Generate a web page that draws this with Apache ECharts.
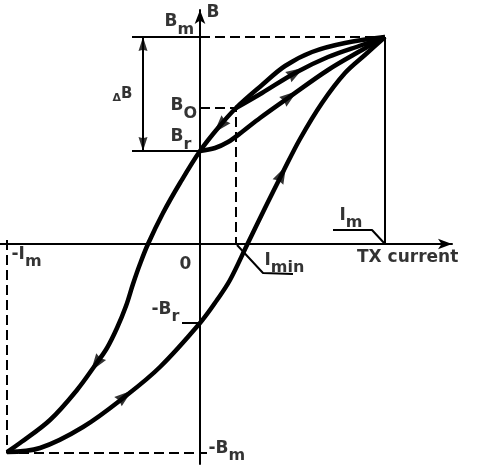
<!DOCTYPE html>
<html><head><meta charset="utf-8">
<script src="https://cdn.jsdelivr.net/npm/echarts@6/dist/echarts.min.js"></script>
<style>html,body{margin:0;padding:0;background:#fff}#c{width:481px;height:466px}</style>
</head><body><div id="c"></div>
<script>
// Hysteresis loop, drawing units: TX current (Im = 185), flux B (Bm = 207)
const Im = 185, negIm = -193, Bm = 207, negBm = -209, Br = 93, negBr = -79, Bo = 136, Imin = 36;

// outer loop, descending branch (from +Bm to -Bm)
const outerDown = [[185,207],[145,201],[112,192],[85,178],[62,159],[36,136],[18,116],[0,93],[-20,61],[-37,31],[-52,0],[-60,-20],[-67,-40],[-74,-62],[-83,-84],[-93,-104],[-104,-120],[-123,-146],[-150,-176],[-180,-199],[-193,-208]];
// outer loop, ascending branch (from -Bm to +Bm)
const outerUp = [[-193,-208],[-160,-204],[-117,-183],[-73,-151],[-40,-123],[0,-79],[17,-56],[30,-36],[47,-1],[65,36],[83,72],[100,105],[122,141],[145,171],[166,190],[185,207]];
// minor loop from Br back to Bm
const minorLow = [[0,93],[15,96],[28,102],[42,112],[60,126],[88,146],[128,174],[162,194],[185,207]];
// minor loop from Bo back to Bm
const minorHigh = [[36,136],[62,151],[95,171],[128,187],[162,199],[185,207]];

// direction arrows on the curves: [tail, head]
const curveArrows = [
  [[28,127],[20,118]],
  [[-97,-110],[-104,-120]],
  [[-85,-160],[-75,-152]],
  [[77,60],[82,70]],
  [[86,165.5],[96,171.5]],
  [[80,140],[90,147.5]]
];

// ---------------- layout (not data) ----------------
const FONT = 'DejaVu Sans';
const labels = [
  {text:'{t|B}', at:[7,239.5]},
  {text:'{t|B}{s|m}', at:[-35,230]},
  {text:'{d|\u0394}{u|B}', at:[-87,157]},
  {text:'{t|B}{s|O}', at:[-29,146]},
  {text:'{t|B}{s|r}', at:[-29,115]},
  {text:'{t|-I}{s|m}', at:[-188,-2.5]},
  {text:'{t|0}', at:[-20,-12.5]},
  {text:'{t|I}{s|min}', at:[65,-8.5]},
  {text:'{t|I}{s|m}', at:[140,36.5]},
  {text:'{t|TX current}', at:[157.5,-5.5]},
  {text:'{t|-B}{s|r}', at:[-48,-57.5]},
  {text:'{t|-B}{s|m}', at:[9,-196.5]}
];
const dBx = -57;
const solidGuides = [
  [[-68,Bm],[0,Bm]],
  [[Im,Bm],[Im,0]],
  [[-68,Br],[0,Br]],
  [[-18,negBr],[0,negBr]],
  [[0,negBm],[7,negBm]],
  [[133,14],[172,14],[Im,0]],
  [[Imin+1,-1],[63,-29],[93,-30]],
  [[dBx,Bm],[dBx,Br]]
];
const dashedGuides = [
  [[0,Bm],[Im,Bm]],
  [[0,Bo],[Imin,Bo],[Imin,0]],
  [[negIm,4],[negIm,negBm],[0,negBm]]
];
const guideArrows = [
  [[dBx,Bm-17],[dBx,Bm-7]],
  [[dBx,Br+17],[dBx,Br+7]]
];

const chart = echarts.init(document.getElementById('c'), null, {renderer:'canvas'});
const blk = '#000';
function lineSeries(data, width, type, smooth){
  return {type:'line', data:data, symbol:'none', smooth:smooth||false, silent:true,
    lineStyle:{color:blk, width:width, type:type||'solid', cap:'butt'}, z:2};
}
const series = [];
[outerDown, outerUp, minorLow, minorHigh].forEach(d=>series.push(lineSeries(d,4.5,'solid',0.35)));
solidGuides.forEach(d=>series.push(lineSeries(d,2)));
dashedGuides.forEach(d=>series.push(lineSeries(d,2,[10,5])));
const arrowPath = 'path://M5,0L10,16L5,14.5L0,16Z';
series.push({type:'scatter', id:'arrowsC', symbol:arrowPath, symbolSize:[12,18], itemStyle:{color:blk}, silent:true, z:5, clip:false,
  data: curveArrows.map(a=>({value:a[1]}))});
series.push({type:'scatter', id:'arrowsG', symbol:arrowPath, symbolSize:[9,14], itemStyle:{color:blk}, silent:true, z:5, clip:false,
  data: guideArrows.map(a=>({value:a[1]}))});
series.push({type:'scatter', symbolSize:1, itemStyle:{color:'rgba(0,0,0,0)'}, silent:true, z:10, clip:false,
  data: labels.map(l=>({value:l.at, label:{formatter:l.text}})),
  label:{show:true, position:[0,0], align:'left', verticalAlign:'top', color:blk,
    rich:{
      t:{fontFamily:FONT, fontSize:17, fontWeight:'bold', lineHeight:19, verticalAlign:'top', color:blk},
      s:{fontFamily:FONT, fontSize:16, fontWeight:'bold', lineHeight:32, verticalAlign:'middle', color:blk},
      u:{fontFamily:FONT, fontSize:15, fontWeight:'bold', lineHeight:15, verticalAlign:'top', color:blk},
      d:{fontFamily:FONT, fontSize:11, fontWeight:'bold', lineHeight:17, verticalAlign:'bottom', color:blk}
    }}});

const axisCommon = {type:'value', axisTick:{show:false}, axisLabel:{show:false}, splitLine:{show:false},
  axisLine:{show:true, onZero:true, symbol:['none','arrow'], symbolSize:[8,14], lineStyle:{color:blk, width:2}}};
chart.setOption({
  animation:false,
  backgroundColor:'#fff',
  grid:{left:0, top:10, width:452, height:454},
  xAxis:Object.assign({min:-200, max:252}, axisCommon),
  yAxis:Object.assign({min:-220, max:234}, axisCommon),
  series:series
});
function rot(a){
  const p0 = chart.convertToPixel({gridIndex:0}, a[0]);
  const p1 = chart.convertToPixel({gridIndex:0}, a[1]);
  const ang = Math.atan2(-(p1[1]-p0[1]), p1[0]-p0[0]) * 180 / Math.PI;
  return ang - 90;
}
chart.setOption({series:[
  {id:'arrowsC', data: curveArrows.map(a=>({value:a[1], symbolRotate:rot(a)}))},
  {id:'arrowsG', data: guideArrows.map(a=>({value:a[1], symbolRotate:rot(a)}))}
]});
</script></body></html>
